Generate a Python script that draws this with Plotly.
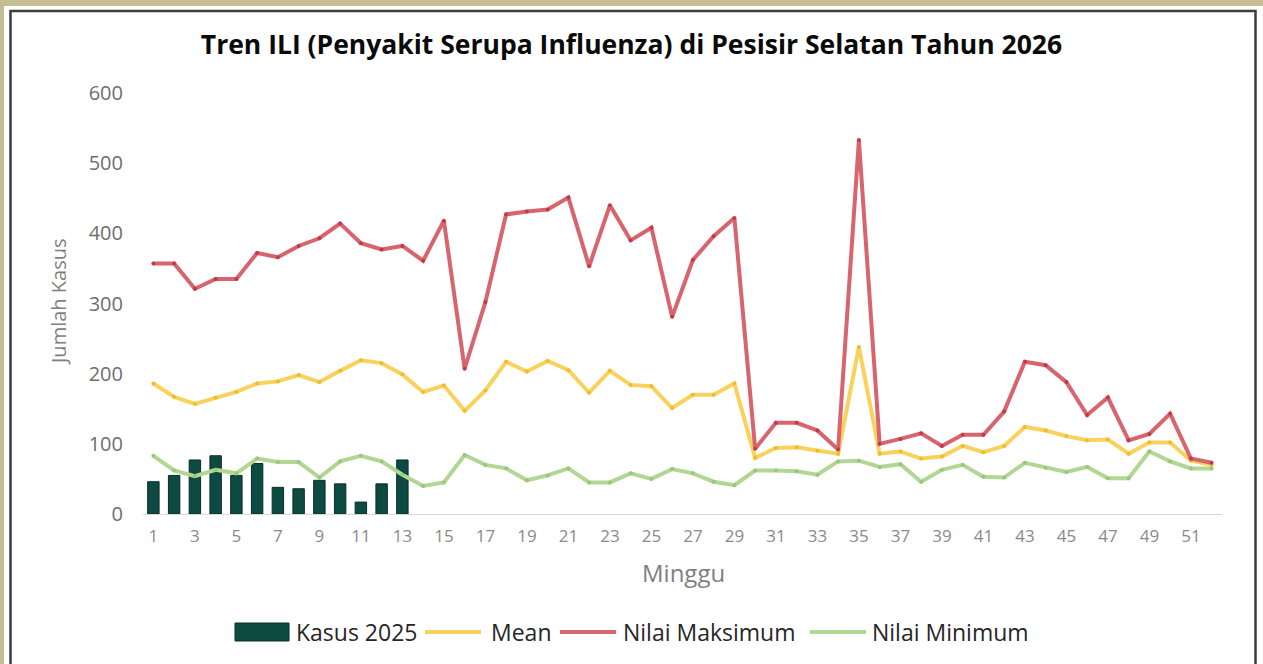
import plotly.graph_objects as go

weeks = [str(i) for i in range(1, 53)]

kasus_2025 = [46, 55, 77, 83, 55, 72, 38, 36, 48, 43, 17, 43, 77] + [None] * 39

mean_vals = [186, 167, 157, 166, 174, 186, 189, 198, 188, 204, 219, 215, 199, 174,
             183, 147, 176, 217, 203, 218, 205, 173, 204, 184, 182, 151, 170, 170, 186,
             80, 94, 95, 90, 86, 238, 86, 89, 79, 82, 97, 88, 97, 124, 119, 111, 105,
             106, 86, 102, 102, 76, 70]

max_vals = [357, 357, 321, 335, 335, 372, 366, 382, 393, 414, 386, 377, 382, 361,
            418, 207, 302, 427, 431, 434, 451, 353, 440, 390, 408, 281, 362, 396, 422,
            93, 130, 130, 119, 92, 533, 100, 107, 115, 97, 113, 113, 146, 217, 212,
            188, 141, 166, 105, 114, 143, 79, 73]

min_vals = [83, 62, 54, 63, 58, 79, 74, 74, 52, 75, 83, 75, 56, 40,
            45, 84, 70, 65, 48, 55, 65, 45, 45, 58, 50, 64, 58, 46, 41,
            62, 62, 61, 56, 75, 76, 67, 71, 46, 63, 70, 53, 52, 73, 66, 60, 67,
            51, 51, 89, 75, 65, 65]

tick_vals = [str(i) for i in range(1, 53, 2)]

series_names = ["Kasus 2025", "Mean", "Nilai Maksimum", "Nilai Minimum"]
bar_color = "#0c4a42"
mean_color = "#f9d25e"
max_color = "#d8646d"
min_color = "#b2d794"

W, H = 1263, 664
ML, MR, MT, MB = 143, 41, 93, 150
PW, PH = W - ML - MR, H - MT - MB


def px_x(p):
    return (p - ML) / PW


def px_y(p):
    return 1 - (p - MT) / PH


fig = go.Figure()

fig.add_trace(go.Bar(
    x=weeks, y=kasus_2025, name=series_names[0],
    marker=dict(color=bar_color, line=dict(color="#0a2e29", width=1)),
))
fig.add_trace(go.Scatter(
    x=weeks, y=mean_vals, name=series_names[1], mode="lines+markers",
    line=dict(color=mean_color, width=4),
    marker=dict(color="#f0bd2a", size=4),
))
fig.add_trace(go.Scatter(
    x=weeks, y=max_vals, name=series_names[2], mode="lines+markers",
    line=dict(color=max_color, width=4),
    marker=dict(color="#c23a4a", size=4),
))
fig.add_trace(go.Scatter(
    x=weeks, y=min_vals, name=series_names[3], mode="lines+markers",
    line=dict(color=min_color, width=4),
    marker=dict(color="#9cc67c", size=4),
))

shapes = [
    dict(type="rect", xref="paper", yref="paper",
         x0=px_x(4), x1=px_x(1270), y0=px_y(6), y1=px_y(680),
         fillcolor="white", line=dict(width=0), layer="below"),
    dict(type="rect", xref="paper", yref="paper",
         x0=px_x(10.5), x1=px_x(1255.5), y0=px_y(11), y1=px_y(690),
         fillcolor="white", line=dict(color="#3d3d3d", width=2.5), layer="below"),
]

# custom legend (swatches + labels)
LEG_Y = 632
shapes.append(dict(type="rect", xref="paper", yref="paper",
                   x0=px_x(235), x1=px_x(289), y0=px_y(623), y1=px_y(641),
                   fillcolor=bar_color, line=dict(color="#0a2e29", width=1)))
for (x0, x1), col in zip([(425, 481), (560, 616), (810, 866)],
                         [mean_color, max_color, min_color]):
    shapes.append(dict(type="line", xref="paper", yref="paper",
                       x0=px_x(x0), x1=px_x(x1), y0=px_y(LEG_Y), y1=px_y(LEG_Y),
                       line=dict(color=col, width=4)))

annotations = []
for name, xs in zip(series_names, [294, 489, 621, 870]):
    annotations.append(dict(
        text=name, xref="paper", yref="paper", x=px_x(xs), y=px_y(LEG_Y),
        xanchor="left", yanchor="middle", showarrow=False,
        font=dict(size=23, color="#262626", family="Open Sans")))

annotations.append(dict(
    text="Minggu", xref="paper", yref="paper", x=px_x(683), y=px_y(572),
    xanchor="center", yanchor="middle", showarrow=False,
    font=dict(size=24, color="#7f7f7f", family="Open Sans")))
annotations.append(dict(
    text="Jumlah Kasus", xref="paper", yref="paper", x=px_x(58), y=px_y(302),
    xanchor="center", yanchor="middle", showarrow=False, textangle=-90,
    font=dict(size=20, color="#7f7f7f", family="Open Sans")))

fig.update_layout(
    width=W, height=H,
    margin=dict(l=ML, r=MR, t=MT, b=MB, autoexpand=False),
    paper_bgcolor="#c7bd95",
    plot_bgcolor="rgba(0,0,0,0)",
    shapes=shapes,
    annotations=annotations,
    title=dict(
        text="<b>Tren ILI (Penyakit Serupa Influenza) di Pesisir Selatan Tahun 2026</b>",
        x=631.5 / W, xref="container", xanchor="center",
        y=1 - 45 / H, yref="container", yanchor="middle",
        font=dict(family="Open Sans", size=26.5, color="#0a0a0a"),
    ),
    font=dict(family="Open Sans", color="#595959"),
    bargap=0.45,
    showlegend=False,
    xaxis=dict(
        type="category", categoryorder="array", categoryarray=weeks,
        range=[-0.5, 51.5], autorange=False,
        tickmode="array", tickvals=tick_vals, ticktext=tick_vals,
        tickfont=dict(size=17, color="#8a8a8a"),
        showline=True, linecolor="#d9d9d9", linewidth=1,
        showgrid=False, ticks="", ticklabelstandoff=7,
    ),
    yaxis=dict(
        range=[0, 600], autorange=False, tickvals=[0, 100, 200, 300, 400, 500, 600],
        tickfont=dict(size=20, color="#6e6e6e"),
        showgrid=False, zeroline=False, showline=False, ticks="",
        ticklabelstandoff=19,
    ),
)

fig.write_html(
    "out.html",
    config={"displayModeBar": False},
    post_script="document.body.style.margin='0';document.body.style.overflow='hidden';",
)
